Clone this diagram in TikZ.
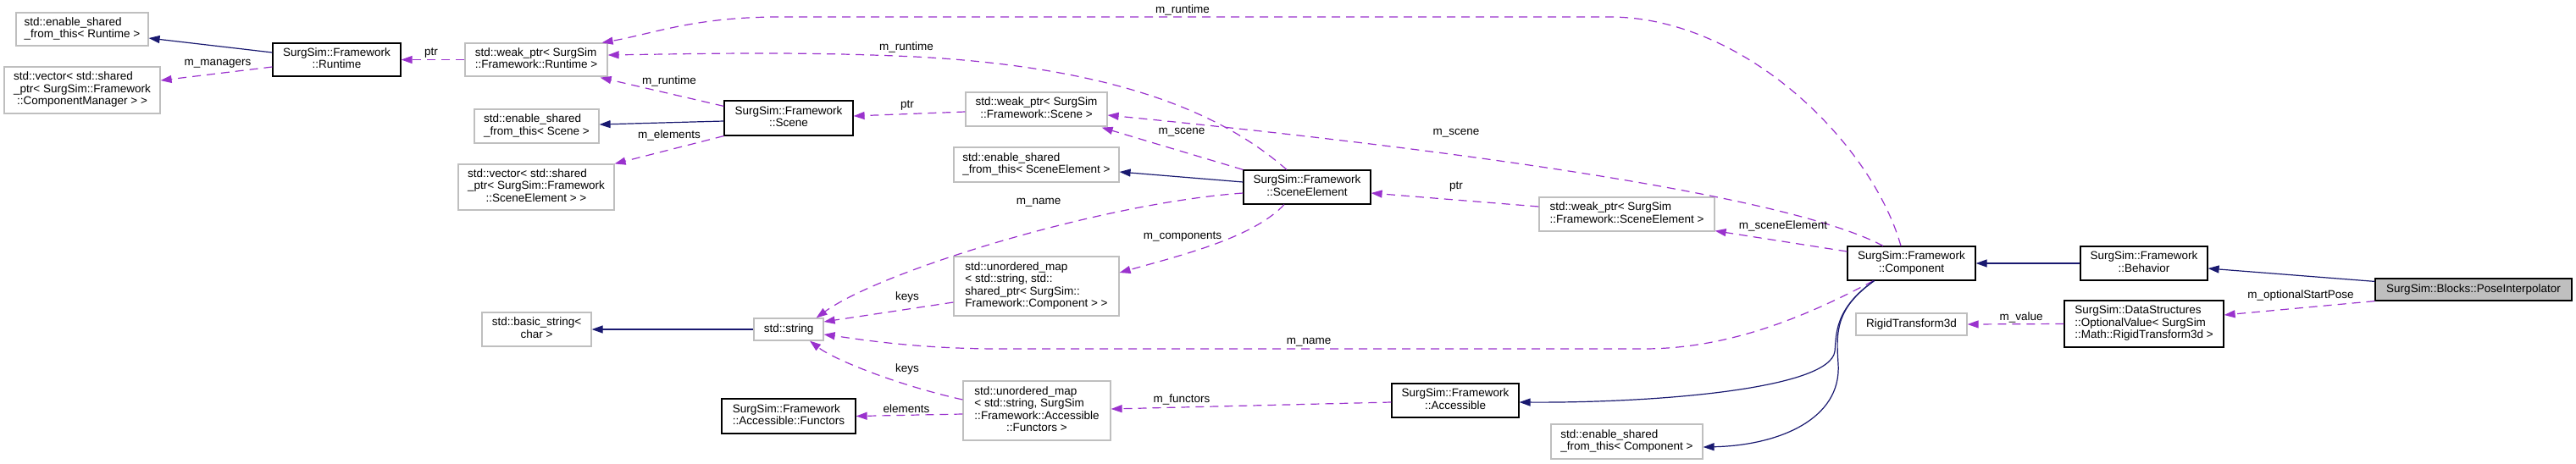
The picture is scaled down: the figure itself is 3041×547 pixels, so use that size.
\documentclass[tikz,border=0pt]{standalone}
\usepackage{fontspec}
\setmainfont{Liberation Sans}
\usetikzlibrary{arrows.meta,calc}
\definecolor{inhcol}{HTML}{191970}
\definecolor{usecol}{HTML}{9A32CD}
\definecolor{extcol}{HTML}{BFBFBF}
\newcommand{\twol}[2]{\begin{tabular}{@{}l@{}}#1\\\multicolumn{1}{@{}c@{}}{#2}\end{tabular}}
\tikzset{
  box/.style={rectangle, inner sep=0pt, font=\fontsize{13.5}{14.5}\selectfont, line width=1.2pt},
  doc/.style={box, draw=black},
  ext/.style={box, draw=extcol},
  cur/.style={box, draw=black, fill=extcol},
  inh/.style={draw=inhcol, line width=1.2pt, -{Triangle[length=13pt,width=9pt]}},
  use/.style={draw=usecol, line width=1.2pt, dash pattern=on 10pt off 7pt, -{Triangle[length=13pt,width=9pt]}},
  lbl/.style={inner sep=0pt, font=\fontsize{13.5}{14.5}\selectfont}
}
\begin{document}
\begin{tikzpicture}[x=1pt,y=-1pt]
\useasboundingbox (0,0) rectangle (3041,547);
% nodes
\node[ext, minimum width=156, minimum height=39] (esRuntime) at (97,34.5) {\twol{std::enable\_shared}{\_from\_this< Runtime >}};
\node[ext, minimum width=184, minimum height=55] (vecCM) at (97,106.5) {\twol{std::vector< std::shared\\\_ptr< SurgSim::Framework}{::ComponentManager > >}};
\node[doc, minimum width=151, minimum height=39] (runtime) at (397.5,70.5) {\twol{SurgSim::Framework}{::Runtime}};
\node[ext, minimum width=168, minimum height=39] (wpRuntime) at (633,70.5) {\twol{std::weak\_ptr< SurgSim}{::Framework::Runtime >}};
\node[ext, minimum width=147, minimum height=40] (esScene) at (633.5,149) {\twol{std::enable\_shared}{\_from\_this< Scene >}};
\node[ext, minimum width=184, minimum height=54] (vecSE) at (633,221) {\twol{std::vector< std::shared\\\_ptr< SurgSim::Framework}{::SceneElement > >}};
\node[ext, minimum width=129, minimum height=40] (basicString) at (633.5,389) {\twol{std::basic\_string<}{char >}};
\node[doc, minimum width=152, minimum height=41] (scene) at (931,139.5) {\twol{SurgSim::Framework}{::Scene}};
\node[ext, minimum width=82, minimum height=26] (string) at (931,389) {std::string};
\node[doc, minimum width=158, minimum height=41] (functors) at (931,491.5) {\twol{SurgSim::Framework}{::Accessible::Functors}};
\node[ext, minimum width=167, minimum height=40] (wpScene) at (1223.5,129) {\twol{std::weak\_ptr< SurgSim}{::Framework::Scene >}};
\node[ext, minimum width=195, minimum height=41] (esSE) at (1223.5,194.5) {\twol{std::enable\_shared}{\_from\_this< SceneElement >}};
\node[ext, minimum width=195, minimum height=70] (mapComp) at (1223.5,338) {\twol{std::unordered\_map\\< std::string, std::\\shared\_ptr< SurgSim::}{Framework::Component > >}};
\node[ext, minimum width=174, minimum height=70] (mapFunc) at (1224,485) {\twol{std::unordered\_map\\< std::string, SurgSim\\::Framework::Accessible}{::Functors >}};
\node[doc, minimum width=150, minimum height=40] (sceneElement) at (1543,221) {\twol{SurgSim::Framework}{::SceneElement}};
\node[doc, minimum width=150, minimum height=40] (accessible) at (1718,473) {\twol{SurgSim::Framework}{::Accessible}};
\node[ext, minimum width=207, minimum height=40] (wpSE) at (1920.5,253) {\twol{std::weak\_ptr< SurgSim}{::Framework::SceneElement >}};
\node[ext, minimum width=179, minimum height=41] (esComp) at (1920.5,521.5) {\twol{std::enable\_shared}{\_from\_this< Component >}};
\node[doc, minimum width=151, minimum height=40] (component) at (2256.5,311) {\twol{SurgSim::Framework}{::Component}};
\node[ext, minimum width=131, minimum height=26] (rigid) at (2256.5,383) {RigidTransform3d};
\node[doc, minimum width=150, minimum height=40] (behavior) at (2531,311) {\twol{SurgSim::Framework}{::Behavior}};
\node[doc, minimum width=188, minimum height=55] (optVal) at (2531,382.5) {\twol{SurgSim::DataStructures\\::OptionalValue< SurgSim}{::Math::RigidTransform3d >}};
\node[cur, minimum width=232, minimum height=26] (pose) at (2920,342) {SurgSim::Blocks::PoseInterpolator};
% edges
\draw[inh] ($(runtime.west)+(0,-8.5)$) -- ($(esRuntime.east)+(0,10.5)$);
\draw[use] ($(runtime.west)+(0,8.5)$) -- ($(vecCM.east)+(0,-11.5)$);
\draw[use] (wpRuntime.west) -- (runtime.east);
\draw[use] ($(component.north)+(-12.5,0)$) .. controls (2210,170) and (2060,20) .. (1900,20) -- (920,20) .. controls (820,20) and (770,40) .. ($(wpRuntime.north east)+(-7,0)$);
\draw[use] ($(sceneElement.north)+(-24,0)$) .. controls (1450,140) and (1330,80) .. (1080,67) .. controls (950,61) and (850,63) .. ($(wpRuntime.east)+(0,-5.5)$);
\draw[use] ($(scene.north west)+(0,7)$) -- ($(wpRuntime.south east)+(-9,1)$);
\draw[inh] ($(scene.west)+(0,3.5)$) -- ($(esScene.east)+(0,-2)$);
\draw[use] (scene.south west) -- (vecSE.north east);
\draw[use] ($(wpScene.west)+(0,3)$) -- ($(scene.east)+(0,-2.5)$);
\draw[use] (sceneElement.north west) -- ($(wpScene.south east)+(-7,1)$);
\draw[use] ($(component.north)+(-33.5,0)$) .. controls (2100,225) and (1650,170) .. ($(wpScene.east)+(0,7)$);
\draw[inh] ($(sceneElement.west)+(0,-6)$) -- ($(esSE.east)+(0,8.5)$);
\draw[use] ($(sceneElement.west)+(0,7)$) .. controls (1300,240) and (1040,320) .. ($(string.north east)+(-9,0)$);
\draw[use] ($(sceneElement.south)+(-27,0)$) .. controls (1480,280) and (1400,300) .. ($(mapComp.east)+(0,-16)$);
\draw[use] ($(mapComp.west)+(0,19)$) -- ($(string.east)+(0,-9)$);
\draw[use] ($(component.south)+(-45,0)$) .. controls (2130,375) and (2040,412) .. (1940,412) -- (1180,412) .. controls (1080,412) and (1010,400) .. ($(string.east)+(0,6)$);
\draw[use] ($(mapFunc.west)+(0,-13)$) .. controls (1060,455) and (985,425) .. ($(string.south)+(25,0)$);
\draw[use] ($(mapFunc.west)+(0,4)$) -- (functors.east);
\draw[use] ($(accessible.west)+(0,2)$) -- ($(mapFunc.east)+(0,-2)$);
\draw[use] ($(wpSE.west)+(0,-9)$) -- ($(sceneElement.east)+(0,7)$);
\draw[use] ($(component.west)+(0,-14)$) -- ($(wpSE.south east)+(0,-1)$);
\draw[inh] ($(component.south)+(-44,0)$) .. controls (2165,365) and (2168,395) .. (2166,415) .. controls (2160,460) and (1950,476) .. ($(accessible.east)+(0,2)$);
\draw[inh] ($(component.south)+(-44,0)$) .. controls (2165,365) and (2168,395) .. (2170,430) .. controls (2174,495) and (2100,526) .. ($(esComp.east)+(0,6.5)$);
\draw[inh] (behavior.west) -- (component.east);
\draw[inh] ($(pose.north west)+(0,4)$) -- ($(behavior.east)+(0,6)$);
\draw[use] (pose.south west) -- ($(optVal.east)+(0,-10.5)$);
\draw[use] (optVal.west) -- (rigid.east);
\draw[inh] (string.west) -- (basicString.east);
% labels
\node[lbl] (l1) at (257,75) {m\_managers};
\node[lbl] (l2) at (509,63) {ptr};
\node[lbl] (l3) at (1396,12) {m\_runtime};
\node[lbl] (l4) at (1070,56) {m\_runtime};
\node[lbl] (l5) at (790,96) {m\_runtime};
\node[lbl] (l6) at (790,160) {m\_elements};
\node[lbl] (l7) at (1071,125) {ptr};
\node[lbl] (l8) at (1395,156) {m\_scene};
\node[lbl] (l9) at (1226,239) {m\_name};
\node[lbl] (l10) at (1396,280) {m\_components};
\node[lbl] (l11) at (1071,351) {keys};
\node[lbl] (l12) at (1071,436) {keys};
\node[lbl] (l13) at (1070,483) {elements};
\node[lbl] (l14) at (1395,472) {m\_functors};
\node[lbl] (l15) at (1719,157) {m\_scene};
\node[lbl] (l16) at (1719,221) {ptr};
\node[lbl] (l17) at (2105,267) {m\_sceneElement};
\node[lbl] (l18) at (1545,404) {m\_name};
\node[lbl] (l19) at (2386,375) {m\_value};
\node[lbl] (l20) at (2716,349) {m\_optionalStartPose};
\end{tikzpicture}
\end{document}
